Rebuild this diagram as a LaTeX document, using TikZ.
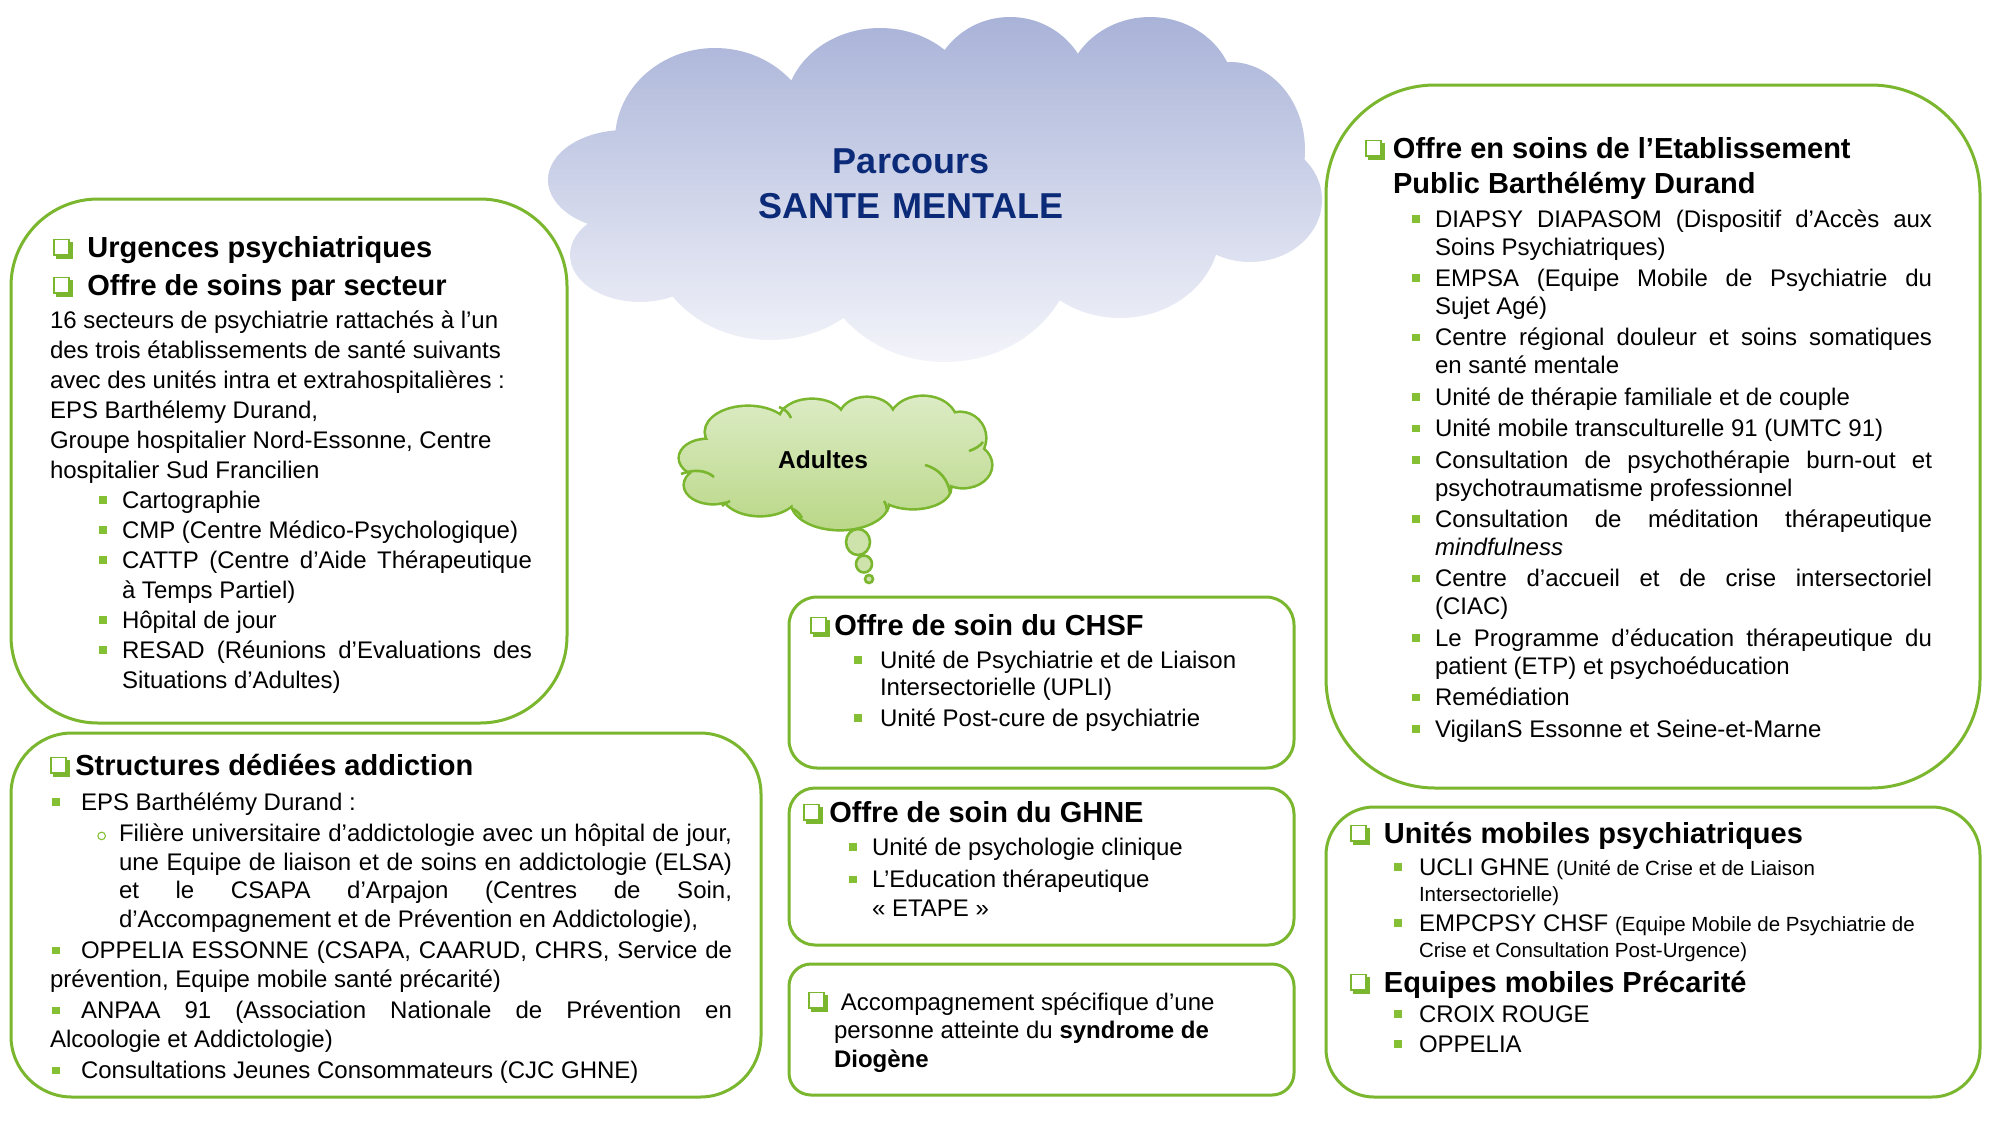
\documentclass[tikz,border=0pt]{standalone}
\usepackage{fontspec}
\setmainfont{Liberation Sans}
\definecolor{gr}{HTML}{7AB62E}
\definecolor{bgr}{HTML}{84BF34}
\definecolor{navy}{HTML}{0B2A78}
\definecolor{cltop}{HTML}{A9B3D8}
\definecolor{clbot}{HTML}{F3F4FA}
\definecolor{adtop}{HTML}{DCEBC4}
\definecolor{adbot}{HTML}{BAD888}
\newlength\bgap
\setlength\bgap{7.7pt}
\newcommand\cbx{\tikz[baseline=0pt,x=1pt,y=1pt]{\fill[gr](1.7,-1.0) rectangle (10.2,7.5);\filldraw[draw=gr,fill=white,line width=0.85pt](0.45,1.1) rectangle (8.1,8.75);}}
\newcommand\bsq{\textcolor{bgr}{\rule[2.2pt]{3.8pt}{3.8pt}}}
\newcommand\ring{\tikz[baseline=0pt,x=1pt,y=1pt]\draw[bgr,line width=0.55pt](2.2,2.8) circle (1.9);}
\newcommand\itm{\par\noindent\llap{\bsq\hspace{\bgap}}}
\newcommand\hdr[1][17.5]{\fontsize{14.5}{#1}\selectfont\bfseries}
\newcommand\smf{\fontsize{10.25}{12}\selectfont}
\newcommand\setup{\hyphenpenalty=10000\exhyphenpenalty=10000\tolerance=10000\parskip=0pt\relax}
\newcommand\BC{(715,140) ellipse [x radius=100, y radius=92]
 (880,110) ellipse [x radius=95, y radius=82]
 (1010,95) ellipse [x radius=80, y radius=78]
 (1150,95) ellipse [x radius=85, y radius=78]
 (1230,150) ellipse [x radius=75, y radius=88]
 (1250,200) ellipse [x radius=72, y radius=62]
 (1120,230) ellipse [x radius=100, y radius=88]
 (945,245) ellipse [x radius=130, y radius=117]
 (770,235) ellipse [x radius=120, y radius=105]
 (625,180) ellipse [x radius=77, y radius=50]
 (640,255) ellipse [x radius=70, y radius=47]
 (930,190) ellipse [x radius=300, y radius=120]}
\newcommand\AC{(748,432) ellipse [x radius=42, y radius=25]
 (812,420) ellipse [x radius=32, y radius=20]
 (867,418) ellipse [x radius=27, y radius=20]
 (923,422) ellipse [x radius=33, y radius=25]
 (960,438) ellipse [x radius=25, y radius=25]
 (963,465) ellipse [x radius=28, y radius=22]
 (913,488) ellipse [x radius=37, y radius=20]
 (840,502) ellipse [x radius=48, y radius=27]
 (760,492) ellipse [x radius=38, y radius=23]
 (713,485) ellipse [x radius=28, y radius=18]
 (707,458) ellipse [x radius=27, y radius=18]
 (837,462) ellipse [x radius=117, y radius=40]}
\tikzset{
 box/.style={draw=gr, line width=1.5pt, anchor=north west, inner sep=0pt, outer sep=0pt},
 txt/.style={anchor=base west, inner sep=0pt, outer sep=0pt, align=justify, font=\fontsize{12}{14}\selectfont},
 bub/.style={draw=gr, line width=1.3pt, fill=adtop!60!adbot},
 inarc/.style={draw=gr, line width=1.3pt}
}
\begin{document}
\begin{tikzpicture}[x=0.5pt,y=-0.5pt]
\useasboundingbox (0,0) rectangle (2000,1125);
% big cloud
\shade[top color=cltop, bottom color=clbot] \BC;
\node[text width=300pt, align=center, anchor=base, inner sep=0pt, text=navy, font=\fontsize{18}{22.5}\selectfont\bfseries] (title) at (911,173) {Parcours\\SANTE MENTALE};
% Adultes cloud
\draw[gr, line width=2.6pt] \AC;
\shade[top color=adtop, bottom color=adbot] \AC;
\draw[inarc] (681,474) .. controls (694,469) and (706,470) .. (714,477);
\draw[inarc] (779,407) .. controls (785,409) and (789,413) .. (791,418);
\draw[inarc] (925,465) .. controls (940,469) and (948,480) .. (950,493);
\draw[inarc] (969,451) .. controls (975,449) and (980,446) .. (983,442);
\draw[inarc] (793,509) .. controls (797,511) and (800,514) .. (802,518);
\draw[inarc] (884,501) .. controls (886,504) and (887,508) .. (887,512);
\draw[inarc] (730,501) .. controls (727,502) and (724,504) .. (722,506);
\node[anchor=base, inner sep=0pt, font=\fontsize{12.25}{14}\selectfont\bfseries] (adultes) at (823,468) {Adultes};
\path[bub] (858,542) ellipse [x radius=12, y radius=13];
\path[bub] (864,564) ellipse [x radius=8, y radius=8.5];
\path[bub] (869,579) ellipse [x radius=4, y radius=4];
% boxes
\node[box, rounded corners=43.5pt, minimum width=278pt, minimum height=262pt] (b1) at (11,199) {};
\node[box, rounded corners=30.5pt, minimum width=375pt, minimum height=182pt] (b2) at (11,733) {};
\node[box, rounded corners=14pt, minimum width=252.5pt, minimum height=85.5pt] (b3) at (789,597) {};
\node[box, rounded corners=13pt, minimum width=252.5pt, minimum height=78.5pt] (b4) at (789,788) {};
\node[box, rounded corners=11pt, minimum width=252.5pt, minimum height=65.5pt] (b5) at (789,964) {};
\node[box, rounded corners=54.5pt, minimum width=327pt, minimum height=351.5pt] (b6) at (1326,85) {};
\node[box, rounded corners=24pt, minimum width=327pt, minimum height=145pt] (b7) at (1326,807) {};
% box 1 text
\node[txt, text width=241pt] (t1) at (50,257) {\setup
{\hdr[19]\hspace*{1.5pt}\cbx\hspace{7pt}Urgences psychiatriques\par}
{\hdr[19]\hspace*{1.5pt}\cbx\hspace{7pt}Offre de soins par secteur\par}
\fontsize{12}{15}\selectfont\vspace{1.5pt}
16 secteurs de psychiatrie rattachés à l’un\newline des trois établissements de santé suivants\newline avec des unités intra et extrahospitalières :\par
EPS Barthélemy Durand,\par
Groupe hospitalier Nord-Essonne, Centre\newline hospitalier Sud Francilien\par
\leftskip=36pt
\itm Cartographie
\itm CMP (Centre Médico-Psychologique)
\itm CATTP (Centre d’Aide Thérapeutique\linebreak à Temps Partiel)
\itm Hôpital de jour
\itm RESAD (Réunions d’Evaluations des\linebreak Situations d’Adultes)\par};
% box 2 text
\node[txt, text width=341pt] (t2) at (50,775) {\setup
{\hdr\cbx\hspace{2.5pt}Structures dédiées addiction\par}
\fontsize{12}{14.25}\selectfont\parskip=1.5pt\vspace{1.75pt}
\makebox[15.5pt][l]{\hspace{1pt}\bsq}EPS Barthélémy Durand :\par
{\leftskip=34.5pt\noindent\llap{\ring\hspace{6.5pt}}Filière universitaire d’addictologie avec un hôpital de jour,\linebreak une Equipe de liaison et de soins en addictologie (ELSA)\linebreak et le CSAPA d’Arpajon (Centres de Soin,\linebreak d’Accompagnement et de Prévention en Addictologie),\par}
\makebox[15.5pt][l]{\hspace{1pt}\bsq}OPPELIA ESSONNE (CSAPA, CAARUD, CHRS, Service de\linebreak prévention, Equipe mobile santé précarité)\par
\makebox[15.5pt][l]{\hspace{1pt}\bsq}ANPAA 91 (Association Nationale de Prévention en\linebreak Alcoologie et Addictologie)\par
\makebox[15.5pt][l]{\hspace{1pt}\bsq}Consultations Jeunes Consommateurs (CJC GHNE)\par};
% CHSF
\node[txt, text width=235pt] (t3) at (810,635) {\setup
{\hdr\cbx\hspace{2pt}Offre de soin du CHSF\par}
\fontsize{12}{13.75}\selectfont\parskip=1.5pt\leftskip=35pt\setlength\bgap{9.2pt}\vspace{1.25pt}
\itm Unité de Psychiatrie et de Liaison\newline Intersectorielle (UPLI)
\itm Unité Post-cure de psychiatrie\par};
% GHNE
\node[txt, text width=235pt] (t4) at (803,822) {\setup
{\hdr\cbx\hspace{3pt}Offre de soin du GHNE\par}
\fontsize{12}{14.5}\selectfont\parskip=1.75pt\leftskip=34.5pt\vspace{0.25pt}
\itm Unité de psychologie clinique
\itm L’Education thérapeutique\newline «~ETAPE~»\par};
% Diogene
\node[txt, text width=235pt] (t5) at (808,1010) {\setup
\fontsize{12}{14.25}\selectfont\leftskip=13pt
\hspace*{-13pt}\cbx\hspace{6.3pt}Accompagnement spécifique d’une\newline personne atteinte du \textbf{syndrome de}\newline \textbf{Diogène}\par};
% EPSBD
\node[txt, text width=283.5pt] (t6) at (1365,158) {\setup
{\hdr\leftskip=14pt\hspace*{-14pt}\cbx\hspace{3.8pt}Offre en soins de l’Etablissement\newline Public Barthélémy Durand\par}
\fontsize{12}{14}\selectfont\parskip=1.7pt\leftskip=35pt\vspace{1.3pt}
\itm DIAPSY DIAPASOM (Dispositif d’Accès aux\linebreak Soins Psychiatriques)
\itm EMPSA (Equipe Mobile de Psychiatrie du\linebreak Sujet Agé)
\itm Centre régional douleur et soins somatiques\linebreak en santé mentale
\itm Unité de thérapie familiale et de couple
\itm Unité mobile transculturelle 91 (UMTC 91)
\itm Consultation de psychothérapie burn-out et\linebreak psychotraumatisme professionnel
\itm Consultation de méditation thérapeutique\linebreak \textit{mindfulness}
\itm Centre d’accueil et de crise intersectoriel\linebreak (CIAC)
\itm Le Programme d’éducation thérapeutique du\linebreak patient (ETP) et psychoéducation
\itm Remédiation
\itm VigilanS Essonne et Seine-et-Marne\par};
% mobiles
\node[txt, text width=300pt] (t7) at (1350,843) {\setup
{\hdr\cbx\hspace{6.8pt}Unités mobiles psychiatriques\par}
\fontsize{12}{13}\selectfont\parskip=2pt\leftskip=34.5pt\setlength\bgap{8.7pt}\vspace{1pt}
\itm UCLI GHNE {\smf (Unité de Crise et de Liaison\newline Intersectorielle)}
\itm EMPCPSY CHSF {\smf (Equipe Mobile de Psychiatrie de\newline Crise et Consultation Post-Urgence)}\par
{\leftskip=0pt\hdr[15.5]\cbx\hspace{6.8pt}Equipes mobiles Précarité\par}
\itm CROIX ROUGE
\itm OPPELIA\par};
\end{tikzpicture}
\end{document}
